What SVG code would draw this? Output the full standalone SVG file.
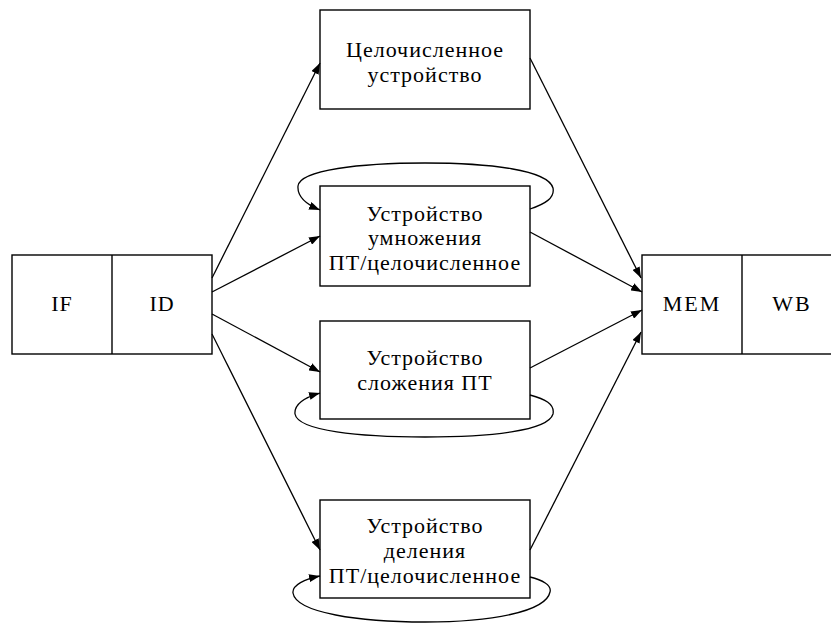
<svg xmlns="http://www.w3.org/2000/svg" width="831" height="630" viewBox="0 0 831 630">
  <style>
    .box { fill: #ffffff; stroke: #000000; stroke-width: 1.4; }
    .div { stroke: #000000; stroke-width: 1.4; }
    .lbl { font-family: "Liberation Serif", "Times New Roman", serif; font-size: 22px; letter-spacing: 1px; fill: #000000; text-anchor: middle; }
    .wide { letter-spacing: 2px; }
    .wire { fill: none; stroke: #000000; stroke-width: 1.3; }
  </style>
  <defs>
    <marker id="arrow" viewBox="0 0 11 8" refX="11" refY="4" markerWidth="11" markerHeight="8" markerUnits="userSpaceOnUse" orient="auto">
      <path d="M0,0 L11,4 L0,8 Z" fill="#000000"/>
    </marker>
  </defs>
  <rect width="831" height="630" fill="#ffffff"/>

  <!-- fetch / decode stages -->
  <g id="if-id">
    <rect class="box" x="12" y="255" width="200" height="99"/>
    <line class="div" x1="112" y1="255" x2="112" y2="354"/>
    <text class="lbl" x="62" y="311">IF</text>
    <text class="lbl" x="162" y="311">ID</text>
  </g>

  <!-- memory / writeback stages -->
  <g id="mem-wb">
    <rect class="box" x="642" y="255" width="200" height="99"/>
    <line class="div" x1="742" y1="255" x2="742" y2="354"/>
    <text class="lbl wide" x="692" y="311">MEM</text>
    <text class="lbl wide" x="792" y="311">WB</text>
  </g>

  <g id="int-unit">
    <rect class="box" x="320" y="10" width="210" height="99"/>
    <text class="lbl" x="425" y="57">Целочисленное</text>
    <text class="lbl" x="425" y="82">устройство</text>
  </g>

  <g id="mul-unit">
    <rect class="box" x="320" y="186" width="210" height="100"/>
    <text class="lbl" x="425" y="221">Устройство</text>
    <text class="lbl" x="425" y="245">умножения</text>
    <text class="lbl" x="425" y="270">ПТ/целочисленное</text>
  </g>

  <g id="add-unit">
    <rect class="box" x="320" y="321" width="210" height="98"/>
    <text class="lbl" x="425" y="365">Устройство</text>
    <text class="lbl" x="425" y="390">сложения ПТ</text>
  </g>

  <g id="div-unit">
    <rect class="box" x="320" y="500" width="210" height="98"/>
    <text class="lbl" x="425" y="533">Устройство</text>
    <text class="lbl" x="425" y="558">деления</text>
    <text class="lbl" x="425" y="583">ПТ/целочисленное</text>
  </g>

  <g id="connectors">
    <!-- issue from ID -->
    <line class="wire" x1="212" y1="278" x2="320" y2="63" marker-end="url(#arrow)"/>
    <line class="wire" x1="212" y1="292" x2="320" y2="236" marker-end="url(#arrow)"/>
    <line class="wire" x1="212" y1="314" x2="320" y2="372" marker-end="url(#arrow)"/>
    <line class="wire" x1="212" y1="334" x2="320" y2="550" marker-end="url(#arrow)"/>

    <!-- pipelined feedback loops -->
    <path class="wire" d="M530,209 C545,204 555,198 553,188 C548,170 490,163 425,163 C360,163 300,170 298,186 C297,198 308,205 320,210" marker-end="url(#arrow)"/>
    <path class="wire" d="M530,395 C545,399 555,404 553,414 C548,431 490,437 425,437 C360,437 298,431 295,414 C294,404 306,397 320,393" marker-end="url(#arrow)"/>
    <path class="wire" d="M530,577 C542,580 552,585 550,592 C546,612 490,622 425,622 C360,622 296,613 293,593 C292,585 305,579 320,576" marker-end="url(#arrow)"/>

    <!-- results to MEM -->
    <line class="wire" x1="530" y1="58" x2="641" y2="278" marker-end="url(#arrow)"/>
    <line class="wire" x1="530" y1="232" x2="642" y2="292" marker-end="url(#arrow)"/>
    <line class="wire" x1="530" y1="368" x2="642" y2="310" marker-end="url(#arrow)"/>
    <line class="wire" x1="530" y1="550" x2="641" y2="332" marker-end="url(#arrow)"/>
  </g>
</svg>
